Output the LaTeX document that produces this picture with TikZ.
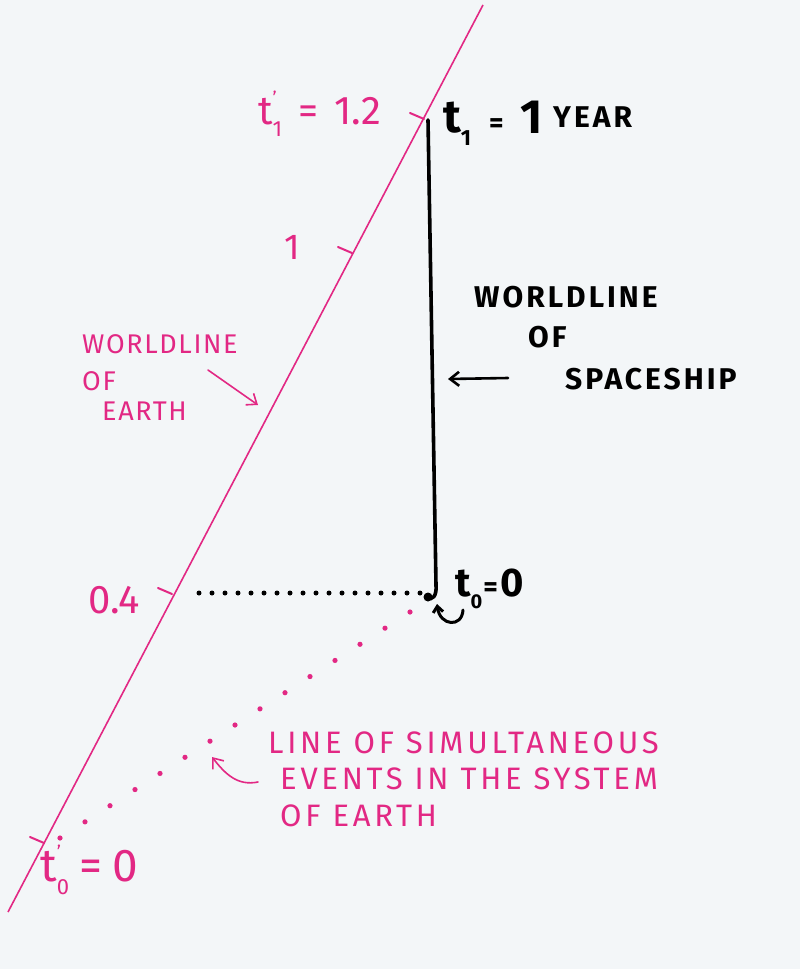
\documentclass[tikz,border=0pt]{standalone}
\usepackage{fontspec}
\setmainfont{Fira Sans}
\newfontfamily\handfont[LetterSpace=12]{Fira Sans}
\newfontfamily\handfontn[LetterSpace=6]{Fira Sans}
\newfontfamily\handbold[LetterSpace=10]{Fira Sans Bold}
\usetikzlibrary{arrows.meta,calc}
\definecolor{pinkink}{RGB}{226,40,132}
\definecolor{paper}{RGB}{243,246,248}
\newcommand{\primesub}[2]{\rlap{\raisebox{0.5em}{\fontsize{18}{18}\selectfont #1}}\raisebox{-0.3em}{\fontsize{22}{22}\selectfont #2}}
\begin{document}
\begin{tikzpicture}[x=1pt,y=-1pt,
  pinktext/.style={text=pinkink, inner sep=0pt, anchor=base west},
  blacktext/.style={text=black, inner sep=0pt, anchor=base west},
  pinkline/.style={draw=pinkink, line width=1.6pt},
  tickmark/.style={draw=pinkink, line width=2pt, line cap=round},
  inkarrow/.style={line width=2.6pt, line cap=round, -{Straight Barb[length=9pt,width=14pt]}},
  pinkarrow/.style={draw=pinkink, line width=1.6pt, line cap=round, -{Straight Barb[length=9pt,width=14pt]}}]
\fill[paper] (0,0) rectangle (800,969);
\useasboundingbox (0,0) rectangle (800,969);

% worldline of earth
\coordinate (etop) at (483,5);
\coordinate (ebot) at (8,912);
\draw[pinkline] (etop) -- (ebot);

% ticks
\coordinate (k1) at (424,119);
\coordinate (k2) at (352,253);
\coordinate (k3) at (172,594);
\coordinate (k4) at (44,843);
\foreach \k in {k1,k2,k3,k4}{\draw[tickmark] ($(\k)+(-14,-6)$) -- (\k);}

% worldline of spaceship
\coordinate (stop) at (428,120);
\coordinate (sbot) at (436,585);
\coordinate (sev) at (428,597);
\draw[line width=3.6pt, line cap=round] (stop) -- (sbot) .. controls (437,596) and (432,601) .. (sev);
\fill (sev) circle (4.5pt);

% dotted line to 0.4
\coordinate (dl) at (187,593);
\coordinate (dr) at (420,593);
\draw[line width=5pt, line cap=round, dash pattern=on 0pt off 13pt] (dr) -- (dl);

% pink dotted line of simultaneous events
\coordinate (pa) at (410,612);
\coordinate (pb) at (60,838);
\foreach \i in {0,...,14}{\fill[pinkink] ($(pa)!\i/14!(pb)$) circle (2.6pt);}

% labels pink
\node[pinktext, font=\fontsize{40}{42}\selectfont] (tp1) at (258,124) {t\primesub{'}{1}\hspace{16pt}=\hspace{16pt}1.2};
\node[pinktext, font=\fontsize{36}{38}\selectfont] (one) at (284,259) {1};
\node[pinktext, font=\fontsize{40}{42}\selectfont] (p04) at (88,613) {0.4};
\node[pinktext, font=\fontsize{46}{48}\selectfont] (tp0) at (40,881) {t\primesub{'}{0}\hspace{10pt}=\hspace{10pt}0};

\node[pinktext, font=\handfontn\fontsize{27}{30}\selectfont] (we1) at (82,353) {WORLDLINE};
\node[pinktext, font=\handfontn\fontsize{27}{30}\selectfont] (we2) at (82,390) {OF};
\node[pinktext, font=\handfontn\fontsize{27}{30}\selectfont] (we3) at (102,420) {EARTH};
\coordinate (wea) at (208,370);
\coordinate (web) at (258,405);
\draw[pinkarrow] (wea) -- (web);

\node[pinktext, font=\handfont\fontsize{31}{32}\selectfont] (ls1) at (268,753) {LINE OF SIMULTANEOUS};
\node[pinktext, font=\handfont\fontsize{31}{32}\selectfont] (ls2) at (280,789) {EVENTS IN THE SYSTEM};
\node[pinktext, font=\handfont\fontsize{31}{32}\selectfont] (ls3) at (280,826) {OF EARTH};
\coordinate (lsa) at (258,782);
\coordinate (lsb) at (212,757);
\draw[pinkarrow] (lsa) .. controls (238,786) and (226,775) .. (lsb);

% labels black
\node[blacktext, font=\bfseries\fontsize{46}{48}\selectfont] (t1) at (443,132) {t\raisebox{-0.3em}{\fontsize{22}{22}\selectfont 1}\hspace{18pt}{\fontsize{28}{28}\selectfont =}};
\node[blacktext, font=\bfseries\fontsize{48}{50}\selectfont] (t1v) at (520,133) {1};
\node[blacktext, font=\handbold\fontsize{30}{30}\selectfont] (yr) at (553,127) {YEAR};
\node[blacktext, font=\bfseries\fontsize{40}{42}\selectfont] (t0) at (455,596) {t\raisebox{-0.3em}{\fontsize{20}{20}\selectfont 0}\hspace{1pt}{\fontsize{28}{28}\selectfont =}\hspace{3pt}0};

\node[blacktext, font=\handbold\fontsize{30}{30}\selectfont] (ws1) at (474,307) {WORLDLINE};
\node[blacktext, font=\handbold\fontsize{30}{30}\selectfont] (ws2) at (528,347) {OF};
\node[blacktext, font=\handbold\fontsize{30}{30}\selectfont] (ws3) at (565,389) {SPACESHIP};
\coordinate (wsa) at (508,378);
\coordinate (wsb) at (448,379);
\draw[inkarrow] (wsa) -- (wsb);

% small hooked arrow at t0
\coordinate (ha) at (463,610);
\coordinate (hb) at (437,604);
\draw[line width=3pt, line cap=round, -{Straight Barb[length=6pt,width=10pt]}] (ha) .. controls (462,628) and (440,626) .. (hb);
\end{tikzpicture}
\end{document}
